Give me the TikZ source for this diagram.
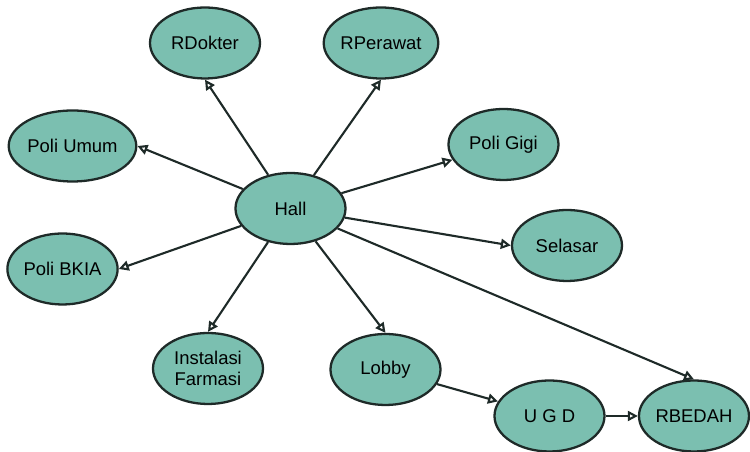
\documentclass[tikz,border=0pt]{standalone}
\definecolor{denahTeal}{HTML}{7BBFB0}
\definecolor{denahGaris}{HTML}{1E2A28}
\usepackage{fontspec}
\setmainfont{Liberation Sans}
\usepackage{tikz}
\usetikzlibrary{
	arrows.meta,
	shapes.geometric
}
\tikzset{
	ruang/.style={
		ellipse,
		draw=denahGaris,
		line width=1.3pt,
		fill=denahTeal,
		minimum width=2.2cm,
		minimum height=1.42cm,
		inner sep=0pt,
		align=center,
		font=\fontsize{10.5}{11.5}\selectfont
	},
	panah/.style={
		-{Triangle[open,length=2mm,width=2mm]},
		line width=1.2pt,
		denahGaris
	}
}
\begin{document}
\begin{tikzpicture}
		\useasboundingbox (0,0) rectangle (15,9.04);
		\node[ruang] (hall) at (5.81,4.87) {Hall};
		\node[ruang] (rdokter) at (4.10,8.18) {RDokter};
		\node[ruang] (rperawat) at (7.62,8.18) {RPerawat};
		\node[ruang] (umum) at (1.45,6.12) {Poli Umum};
		\node[ruang] (gigi) at (10.07,6.15) {Poli Gigi};
		\node[ruang] (selasar) at (11.34,4.13) {Selasar};
		\node[ruang] (bkia) at (1.25,3.66) {Poli BKIA};
		\node[ruang] (farmasi) at (4.16,1.67) {Instalasi\\Farmasi};
		\node[ruang] (lobby) at (7.71,1.65) {Lobby};
		\node[ruang] (ugd) at (10.99,0.72) {U G D};
		\node[ruang] (rbedah) at (13.88,0.72) {RBEDAH};
		\draw[panah] (hall) -- (rdokter.south);
		\draw[panah] (hall) -- (rperawat.south);
		\draw[panah] (hall) -- (umum.east);
		\draw[panah] (hall) -- (gigi);
		\draw[panah] (hall) -- (selasar.west);
		\draw[panah] (hall) -- (bkia.east);
		\draw[panah] (hall) -- (farmasi.north);
		\draw[panah] (hall) -- (lobby.north);
		\draw[panah] (hall) -- (rbedah.north);
		\draw[panah] (lobby) -- (ugd);
		\draw[panah] (ugd) -- (rbedah);
	\end{tikzpicture}
\end{document}
